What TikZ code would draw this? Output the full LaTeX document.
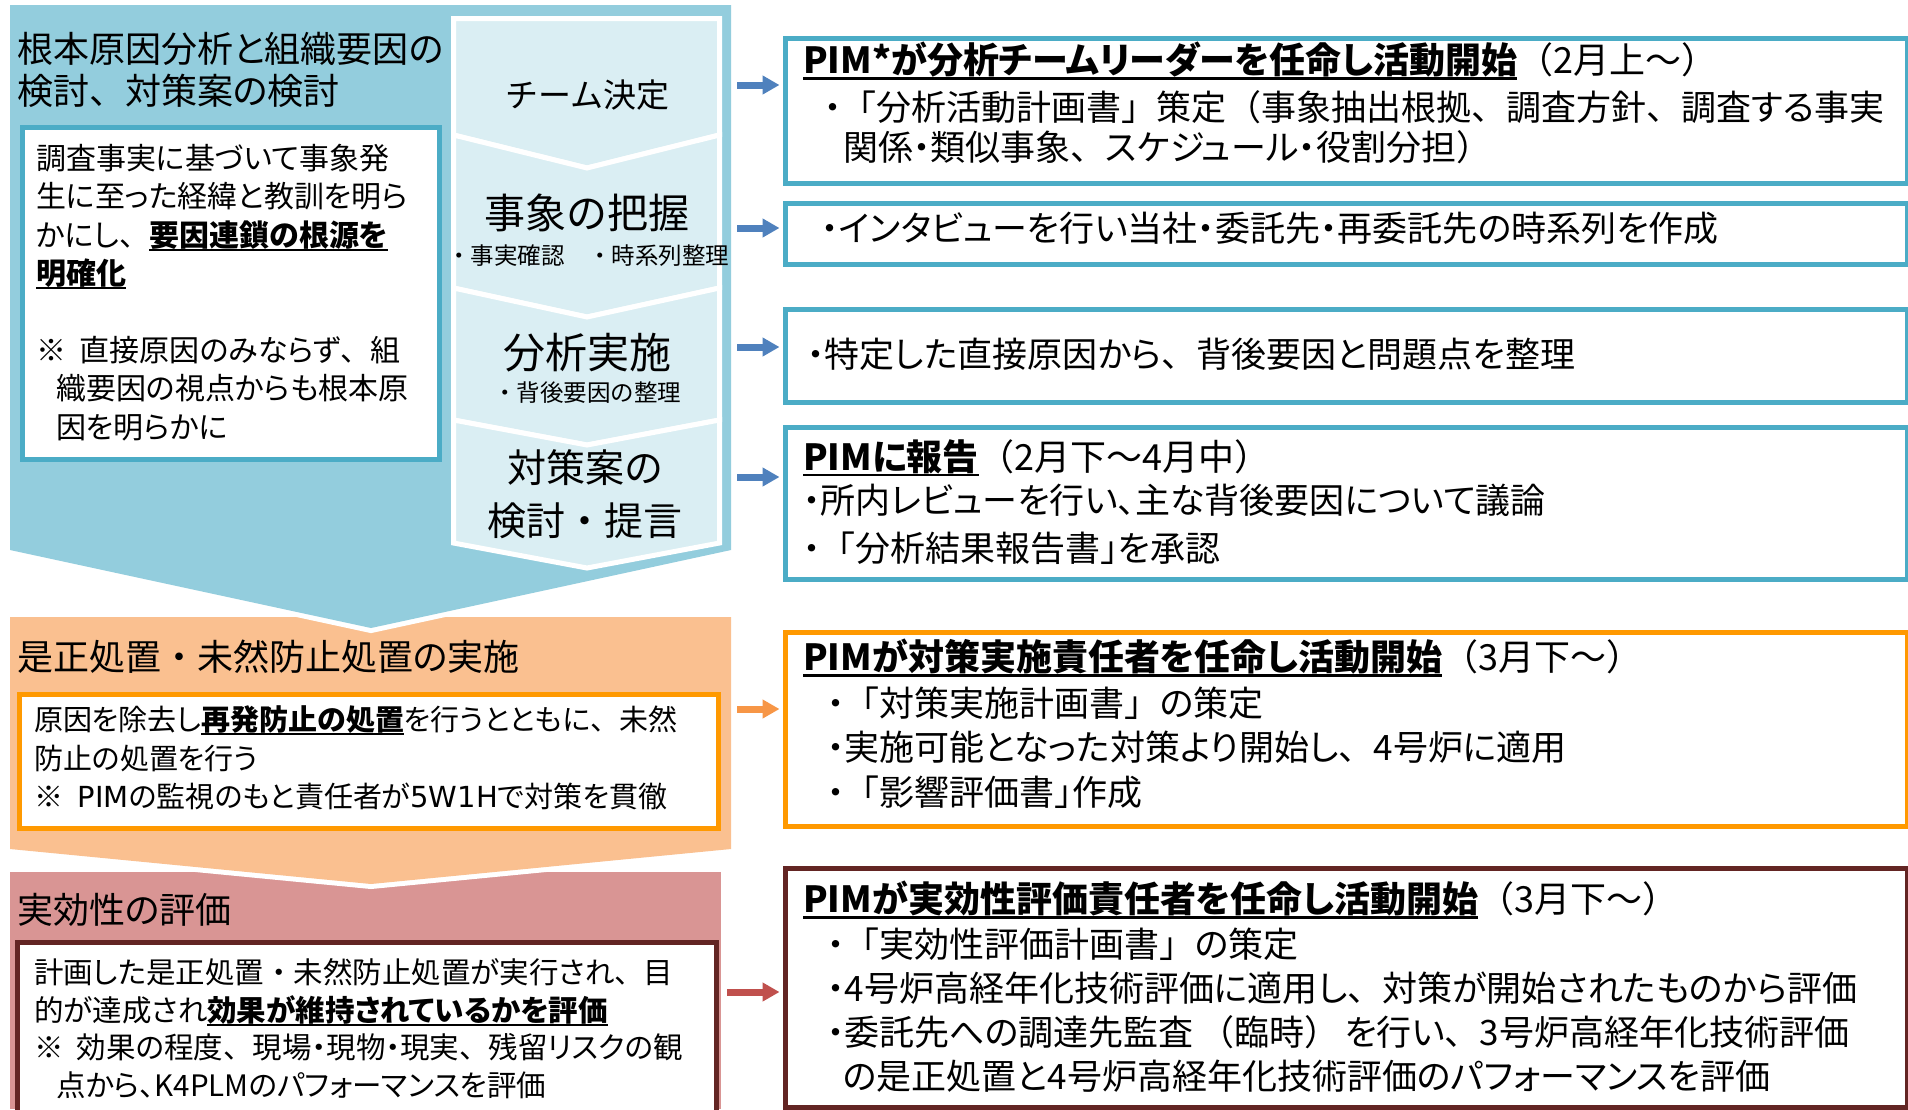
\documentclass[tikz,border=0pt]{standalone}
\usepackage{fontspec}
\setmainfont{Noto Sans CJK JP}[RawFeature=+palt]
\newfontfamily\jpfull{Noto Sans CJK JP}
\newfontfamily\latw{DejaVu Sans}
\usetikzlibrary{arrows.meta}
\definecolor{bluepanel}{HTML}{93CDDD}
\definecolor{steplight}{HTML}{DAEEF3}
\definecolor{blueline}{HTML}{4BACC6}
\definecolor{bluearrow}{HTML}{4F81BD}
\definecolor{orpanel}{HTML}{FAC090}
\definecolor{orline}{HTML}{FF9900}
\definecolor{orarrow}{HTML}{F79646}
\definecolor{redpanel}{HTML}{D99594}
\definecolor{redline}{HTML}{632523}
\definecolor{redarrow}{HTML}{C0504D}
\newcommand\fsz[2]{\fontsize{#1}{#2}\selectfont}
\newcommand\fw[1]{{\jpfull #1}}
\newcommand\ulb[1]{\setbox0\hbox{\bfseries #1}\rlap{\rule[-0.16em]{\wd0}{0.07em}}\box0}
\tikzset{
  tx/.style={inner sep=0pt, anchor=west, align=left, text=black},
  ctr/.style={inner sep=0pt, anchor=center, align=center, text=black},
  chev/.style={fill=steplight, draw=white, line width=5pt, line join=miter},
  frame/.style={fill=white, line width=5pt, anchor=north west, inner sep=0pt},
  arr/.style={line width=7pt, -{Triangle[length=17pt,width=18pt]}, shorten >=3pt},
}
\begin{document}
\begin{tikzpicture}[x=1pt,y=-1pt]
\useasboundingbox (0,0) rectangle (1908,1109);
\fill[white] (0,0) rectangle (1908,1109);

% ---------- panels ----------
\fill[redpanel] (10,872) rectangle (721,1109);
\draw[white,line width=10pt] (10,849) -- (371,884) -- (731,849);
\fill[orpanel] (10,617) -- (731,617) -- (731,849) -- (371,884) -- (10,849) -- cycle;
\draw[white,line width=10pt] (10,550) -- (371,628) -- (731,550);
\fill[bluepanel] (10,5) -- (731,5) -- (731,550) -- (371,628) -- (10,550) -- cycle;

% ---------- step chevrons ----------
\path[chev] (453.5,18.5) -- (719.5,18.5) -- (719.5,135) -- (587,168) -- (453.5,135) -- cycle;
\path[chev] (453.5,135) -- (587,168) -- (719.5,135) -- (719.5,288) -- (587,317) -- (453.5,288) -- cycle;
\path[chev] (453.5,288) -- (587,317) -- (719.5,288) -- (719.5,420) -- (587,445) -- (453.5,420) -- cycle;
\path[chev] (453.5,420) -- (587,445) -- (719.5,420) -- (719.5,543) -- (587,568) -- (453.5,543) -- cycle;

\node[ctr, font=\jpfull\fsz{33}{40}] (c1t) at (587,95) {チーム決定};
\node[ctr, font=\jpfull\fsz{41}{48}] (c2t) at (587,213) {事象の把握};
\node[ctr, font=\jpfull\fsz{23.5}{28}] (c2s) at (588,256) {・事実確認　・時系列整理};
\node[ctr, font=\jpfull\fsz{42}{48}] (c3t) at (587,353) {分析実施};
\node[ctr, font=\jpfull\fsz{23.5}{28}] (c3s) at (587,393) {・背後要因の整理};
\node[ctr, font=\jpfull\fsz{39}{53}] (c4t) at (585,494.5) {対策案の\\検討・提言};

% ---------- left column ----------
\node[tx, font=\fsz{36}{42}] (t1) at (17,70) {根本原因分析と組織要因の\\検討\fw{、}対策案の検討};
\node[frame, draw=blueline, minimum width=417pt, minimum height=332pt] (lbox) at (19.5,124.5) {};
\node[tx, font=\fsz{30}{38.4}] (t2) at (36,292.5) {調査事実に基づいて事象発\\生に至った経緯と教訓を明ら\\かにし\fw{、}\ulb{要因連鎖の根源を}\\\ulb{明確化}\\ \\※\hspace{0.45em}直接原因のみならず\fw{、}組\\\hspace*{20pt}織要因の視点からも根本原\\\hspace*{20pt}因を明らかに};

\node[tx, font=\fsz{36}{42}] (t3) at (17,657) {是正処置\fw{・}未然防止処置の実施};
\node[frame, draw=orline, minimum width=699pt, minimum height=134pt] (obox) at (16.5,691.5) {};
\node[tx, font=\fsz{29}{38.5}] (t4) at (34,758) {原因を除去し\ulb{再発防止の処置}を行うとともに\fw{、}未然\\防止の処置を行う\\※\hspace{0.5em}{\latw PIM}の監視のもと責任者が{\latw 5W1H}で対策を貫徹};

\node[tx, font=\fsz{36}{42}] (t5) at (17,910) {実効性の評価};
\node[frame, draw=redline, minimum width=699pt, minimum height=190pt] (rbox) at (14.5,939.5) {};
\node[tx, font=\fsz{29.5}{37.6}] (t6) at (34,1028.5) {計画した是正処置\fw{・}未然防止処置が実行され\fw{、}目\\的が達成され\ulb{効果が維持されているかを評価}\\※\hspace{0.45em}効果の程度\fw{、}現場・現物・現実\fw{、}残留リスクの観\\\hspace*{22pt}点から、K4PLMのパフォーマンスを評価};

% ---------- right boxes ----------
\node[frame, draw=blueline, minimum width=1122.5pt, minimum height=145pt] (b1) at (782.5,35.5) {};
\node[frame, draw=blueline, minimum width=1122.5pt, minimum height=61pt] (b2) at (782.5,200.5) {};
\node[frame, draw=blueline, minimum width=1122.5pt, minimum height=93pt] (b3) at (782.5,306.5) {};
\node[frame, draw=blueline, minimum width=1122.5pt, minimum height=152pt] (b4) at (782.5,424.5) {};
\node[frame, draw=orline, minimum width=1122.5pt, minimum height=194pt] (b5) at (782.5,629.5) {};
\node[frame, draw=redline, minimum width=1122.5pt, minimum height=239pt] (b6) at (782.5,865.5) {};

\node[tx, font=\fsz{36}{44}] (b1a) at (803,61) {\ulb{PIM*が分析チームリーダーを任命し活動開始}\fw{（}2月上～\fw{）}};
\node[tx, font=\fsz{35}{40}] (b1b) at (824,127) {・\fw{「}分析活動計画書\fw{」}策定\fw{（}事象抽出根拠\fw{、}調査方針\fw{、}調査する事実\\\hspace*{19pt}関係・類似事象\fw{、}スケジュール・役割分担\fw{）}};
\node[tx, font=\fsz{35}{44}] (b2a) at (821,228) {・インタビューを行い当社・委託先・再委託先の時系列を作成};
\node[tx, font=\fsz{35}{44}] (b3a) at (807,354) {・特定した直接原因から\fw{、}背後要因と問題点を整理};
\node[tx, font=\fsz{36}{44}] (b4a) at (803,458) {\ulb{PIMに報告}\fw{（}2月下～4月中\fw{）}};
\node[tx, font=\fsz{35}{48}] (b4b) at (803,524) {・所内レビューを行い、主な背後要因について議論\\・\fw{「}分析結果報告書」を承認};
\node[tx, font=\fsz{36}{44}] (b5a) at (803,658) {\ulb{PIMが対策実施責任者を任命し活動開始}\fw{（}3月下～\fw{）}};
\node[tx, font=\fsz{35}{44.5}] (b5b) at (827,747.5) {・\fw{「}対策実施計画書\fw{」}の策定\\・実施可能となった対策より開始し\fw{、}4号炉に適用\\・\fw{「}影響評価書」作成};
\node[tx, font=\fsz{36}{44}] (b6a) at (803,900) {\ulb{PIMが実効性評価責任者を任命し活動開始}\fw{（}3月下～\fw{）}};
\node[tx, font=\fsz{35}{44}] (b6b) at (827,1010) {・\fw{「}実効性評価計画書\fw{」}の策定\\・4号炉高経年化技術評価に適用し\fw{、}対策が開始されたものから評価\\・委託先への調達先監査\hspace{0.15em}\fw{（}臨時\fw{）}\hspace{0.15em}を行い\fw{、}3号炉高経年化技術評価\\\hspace*{16pt}の是正処置と4号炉高経年化技術評価のパフォーマンスを評価};

% ---------- arrows ----------
\coordinate (s1) at (737,85);
\coordinate (s2) at (737,228);
\coordinate (s3) at (737,347);
\coordinate (s4) at (737,477);
\coordinate (s5) at (737,709);
\coordinate (s6) at (727,992);
\draw[arr, bluearrow] (s1) -- (s1 -| b1.west);
\draw[arr, bluearrow] (s2) -- (s2 -| b2.west);
\draw[arr, bluearrow] (s3) -- (s3 -| b3.west);
\draw[arr, bluearrow] (s4) -- (s4 -| b4.west);
\draw[arr, orarrow] (s5) -- (s5 -| b5.west);
\draw[arr, redarrow] (s6) -- (s6 -| b6.west);
\end{tikzpicture}
\end{document}
